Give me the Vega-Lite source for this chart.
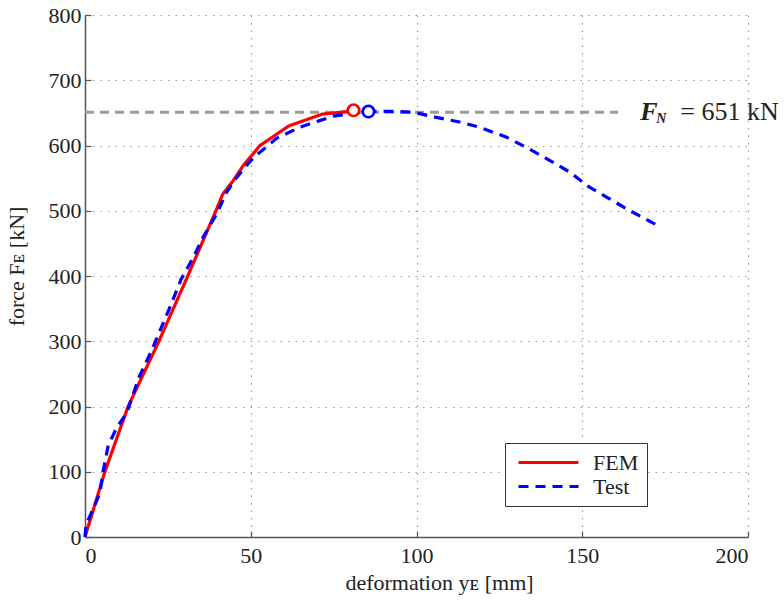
{
  "$schema": "https://vega.github.io/schema/vega-lite/v6.json",
  "width": 663,
  "height": 522,
  "autosize": {"type": "none"},
  "padding": {"left": 85, "top": 15, "right": 36, "bottom": 65},
  "background": "white",
  "config": {
    "view": {"stroke": null},
    "font": "Liberation Serif",
    "axis": {
      "labelFont": "Liberation Serif",
      "titleFont": "Liberation Serif",
      "labelFontSize": 22,
      "titleFontSize": 22,
      "labelColor": "#222",
      "titleColor": "#222",
      "titleFontWeight": "normal",
      "domainColor": "#555",
      "domainWidth": 1.5,
      "tickColor": "#555",
      "tickWidth": 1.2,
      "tickSize": -6,
      "gridColor": "#999",
      "gridDash": [1.5, 6],
      "gridWidth": 1.2
    }
  },
  "datasets": {
    "curves": [
      {"series": "FEM", "x": 0, "y": 0},
      {"series": "FEM", "x": 3, "y": 50},
      {"series": "FEM", "x": 6, "y": 100},
      {"series": "FEM", "x": 13, "y": 200},
      {"series": "FEM", "x": 22.3, "y": 300},
      {"series": "FEM", "x": 31, "y": 400},
      {"series": "FEM", "x": 39.5, "y": 500},
      {"series": "FEM", "x": 41.5, "y": 525},
      {"series": "FEM", "x": 44.7, "y": 546},
      {"series": "FEM", "x": 47.7, "y": 569},
      {"series": "FEM", "x": 52.8, "y": 600},
      {"series": "FEM", "x": 61.5, "y": 630},
      {"series": "FEM", "x": 71.5, "y": 648},
      {"series": "FEM", "x": 81, "y": 653},
      {"series": "Test", "x": 0, "y": 0},
      {"series": "Test", "x": 0.3, "y": 18},
      {"series": "Test", "x": 2, "y": 38},
      {"series": "Test", "x": 4.5, "y": 67},
      {"series": "Test", "x": 5.5, "y": 102},
      {"series": "Test", "x": 7, "y": 140},
      {"series": "Test", "x": 9.6, "y": 168},
      {"series": "Test", "x": 12.6, "y": 190},
      {"series": "Test", "x": 16.3, "y": 245},
      {"series": "Test", "x": 20.1, "y": 286},
      {"series": "Test", "x": 25.6, "y": 352},
      {"series": "Test", "x": 29, "y": 395},
      {"series": "Test", "x": 32.7, "y": 429},
      {"series": "Test", "x": 35.7, "y": 460},
      {"series": "Test", "x": 39.7, "y": 495},
      {"series": "Test", "x": 42.7, "y": 528},
      {"series": "Test", "x": 44.7, "y": 544},
      {"series": "Test", "x": 48.8, "y": 570},
      {"series": "Test", "x": 51, "y": 582},
      {"series": "Test", "x": 57.8, "y": 611},
      {"series": "Test", "x": 64.8, "y": 628},
      {"series": "Test", "x": 74.9, "y": 645},
      {"series": "Test", "x": 85, "y": 652},
      {"series": "Test", "x": 92, "y": 652.5},
      {"series": "Test", "x": 99, "y": 651},
      {"series": "Test", "x": 106, "y": 643},
      {"series": "Test", "x": 113, "y": 636},
      {"series": "Test", "x": 119, "y": 628},
      {"series": "Test", "x": 127, "y": 613},
      {"series": "Test", "x": 133.2, "y": 597},
      {"series": "Test", "x": 139.2, "y": 580},
      {"series": "Test", "x": 146.3, "y": 559},
      {"series": "Test", "x": 151.3, "y": 539},
      {"series": "Test", "x": 157.3, "y": 521},
      {"series": "Test", "x": 164.4, "y": 500},
      {"series": "Test", "x": 171.4, "y": 481},
      {"series": "Test", "x": 173, "y": 477}
    ],
    "peaks": [
      {"series": "FEM", "x": 81, "y": 654},
      {"series": "Test", "x": 85.5, "y": 652}
    ],
    "ref": [
      {"x": 0, "y": 651},
      {"x": 160.8, "y": 651}
    ],
    "note": [
      {"x": 167.5, "y": 651}
    ]
  },
  "layer": [
    {
      "data": {"name": "ref"},
      "mark": {"type": "line", "color": "#9a9a9a", "strokeWidth": 3, "strokeDash": [9, 6]},
      "encoding": {
        "x": {
          "field": "x", "type": "quantitative",
          "scale": {"domain": [0, 200], "nice": false},
          "axis": {"values": [0, 50, 100, 150, 200], "title": "deformation yᴇ [mm]", "labelPadding": 14, "titlePadding": 6, "titleX": 354, "grid": true}
        },
        "y": {
          "field": "y", "type": "quantitative",
          "scale": {"domain": [0, 800], "nice": false},
          "axis": {"values": [0, 100, 200, 300, 400, 500, 600, 700, 800], "title": "force Fᴇ [kN]", "labelPadding": 10, "titlePadding": 20, "titleY": 251, "grid": true}
        }
      }
    },
    {
      "data": {"name": "curves"},
      "mark": {"type": "line", "strokeWidth": 3.2},
      "encoding": {
        "x": {"field": "x", "type": "quantitative"},
        "y": {"field": "y", "type": "quantitative"},
        "color": {
          "field": "series", "type": "nominal",
          "scale": {"domain": ["FEM", "Test"], "range": ["#ff0000", "#0000ff"]},
          "legend": {
            "title": null,
            "orient": "none",
            "legendX": 420,
            "legendY": 428,
            "symbolType": "M-0.6,0H5.4",
            "symbolSize": 400,
            "symbolStrokeWidth": 3,
            "labelFont": "Liberation Serif",
            "labelFontSize": 22,
            "labelColor": "#222",
            "labelOffset": 57,
            "rowPadding": 1,
            "padding": 8,
            "strokeColor": "#333",
            "fillColor": "white",
            "cornerRadius": 0
          }
        },
        "strokeDash": {
          "field": "series", "type": "nominal",
          "scale": {"domain": ["FEM", "Test"], "range": [[1, 0], [10, 7]]},
          "legend": null
        }
      }
    },
    {
      "data": {"name": "peaks"},
      "mark": {"type": "point", "shape": "circle", "size": 130, "strokeWidth": 2.6, "fill": "white", "filled": true, "opacity": 1},
      "encoding": {
        "x": {"field": "x", "type": "quantitative"},
        "y": {"field": "y", "type": "quantitative"},
        "stroke": {
          "field": "series", "type": "nominal",
          "scale": {"domain": ["FEM", "Test"], "range": ["#ff0000", "#0000ff"]},
          "legend": null
        }
      }
    },
    {
      "data": {"name": "note"},
      "mark": {"type": "text", "align": "left", "baseline": "middle", "font": "Liberation Serif", "fontSize": 26, "fontWeight": "bold", "fontStyle": "italic", "color": "#222", "text": "F"},
      "encoding": {
        "x": {"field": "x", "type": "quantitative"},
        "y": {"field": "y", "type": "quantitative"}
      }
    },
    {
      "data": {"name": "note"},
      "mark": {"type": "text", "align": "left", "baseline": "middle", "font": "Liberation Serif", "fontSize": 14, "fontWeight": "bold", "fontStyle": "italic", "color": "#222", "text": "N", "dx": 16, "dy": 7},
      "encoding": {
        "x": {"field": "x", "type": "quantitative"},
        "y": {"field": "y", "type": "quantitative"}
      }
    },
    {
      "data": {"name": "note"},
      "mark": {"type": "text", "align": "left", "baseline": "middle", "font": "Liberation Serif", "fontSize": 26, "color": "#222", "text": "= 651 kN", "dx": 40},
      "encoding": {
        "x": {"field": "x", "type": "quantitative"},
        "y": {"field": "y", "type": "quantitative"}
      }
    }
  ]
}
